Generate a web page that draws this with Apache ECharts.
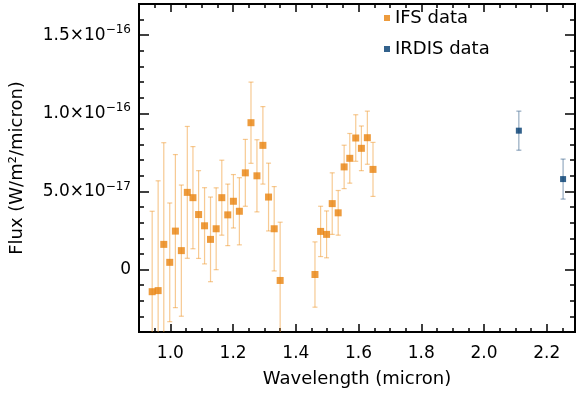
<!DOCTYPE html>
<html><head><meta charset="utf-8">
<script src="https://cdn.jsdelivr.net/npm/echarts@6/dist/echarts.min.js"></script>
<style>html,body{margin:0;padding:0;background:#fff}#c{width:579px;height:394px}</style>
</head><body><div id="c"></div>
<script>
// Flux values in units of 1e-17 W/m^2/micron
const ifsWavelength = [0.942,0.961,0.979,0.998,1.016,1.035,1.054,1.072,1.090,1.109,1.128,1.146,1.164,1.183,1.201,1.220,1.239,1.257,1.276,1.295,1.313,1.331,1.350,1.461,1.479,1.498,1.516,1.535,1.554,1.572,1.591,1.609,1.628,1.646];
const ifsFlux = [-1.42,-1.35,1.61,0.46,2.46,1.21,4.94,4.60,3.52,2.80,1.93,2.61,4.60,3.50,4.37,3.73,6.19,9.40,6.00,7.95,4.64,2.61,-0.70,-0.32,2.44,2.25,4.22,3.63,6.57,7.12,8.42,7.76,8.44,6.41];
const ifsErr = [5.15,7.03,6.51,3.8,4.9,4.2,4.22,3.27,2.81,2.44,2.71,2.62,2.4,1.97,1.71,2.15,2.14,2.6,2.31,2.48,2.17,2.7,3.73,2.09,1.61,1.5,1.97,1.43,1.39,1.59,1.49,1.43,1.7,1.73];
const irdisWavelength = [2.111, 2.252];
const irdisFlux = [8.89, 5.79];
const irdisErr = [1.25, 1.28];

const xTickValues = [1.0,1.2,1.4,1.6,1.8,2.0,2.2];
const xTickLabels = ['1.0','1.2','1.4','1.6','1.8','2.0','2.2'];
const xMinorValues = [0.90,0.95,1.00,1.05,1.10,1.15,1.20,1.25,1.30,1.35,1.40,1.45,1.50,1.55,1.60,1.65,1.70,1.75,1.80,1.85,1.90,1.95,2.00,2.05,2.10,2.15,2.20,2.25];
const yTickValues = [0,5,10,15];
const yTickMain = ['0','5.0\u00d710','1.0\u00d710','1.5\u00d710'];
const yTickExp = ['','\u221217','\u221216','\u221216'];
const yMinorValues = [-4,-3,-2,-1,0,1,2,3,4,5,6,7,8,9,10,11,12,13,14,15,16,17];

const FONT = 'DejaVu Sans';
const ORANGE = '#E8820C';
const NAVY = '#003B6F';

function errRender(color){
  return function(params, api){
    const x = api.value(0), y = api.value(1), e = api.value(2);
    const t = api.coord([x, y + e]), b = api.coord([x, y - e]);
    const cw = 2.5;
    const st = {stroke: color, lineWidth: 1.2};
    return {type:'group', children:[
      {type:'line', shape:{x1:t[0],y1:t[1],x2:b[0],y2:b[1]}, style:st},
      {type:'line', shape:{x1:t[0]-cw,y1:t[1],x2:t[0]+cw,y2:t[1]}, style:st},
      {type:'line', shape:{x1:b[0]-cw,y1:b[1],x2:b[0]+cw,y2:b[1]}, style:st}
    ]};
  };
}

const axLine = {show:true, onZero:false, lineStyle:{color:'#000', width:2}};
function xAx(pos, vals, len, labels){
  return {type:'value', position:pos, min:0.9, max:2.29,
    axisLine: axLine,
    axisTick:{show:true, inside:true, length:len, customValues:vals, lineStyle:{color:'#000', width:1.5}},
    axisLabel: labels ? {show:true, customValues:xTickValues, margin:13, fontSize:17, fontFamily:FONT, color:'#000',
       formatter: v => xTickLabels[xTickValues.findIndex(t => Math.abs(t - v) < 1e-6)]} : {show:false},
    splitLine:{show:false},
    name: labels ? 'Wavelength (micron)' : '', nameLocation:'middle', nameGap:38,
    nameTextStyle:{fontSize:18, fontFamily:FONT, color:'#000'}
  };
}
function yAx(pos, vals, len, labels){
  return {type:'value', position:pos, min:-4, max:17,
    axisLine: axLine,
    axisTick:{show:true, inside:true, length:len, customValues:vals, lineStyle:{color:'#000', width:1.5}},
    axisLabel: labels ? {show:true, customValues:yTickValues, margin:8, fontSize:17, fontFamily:FONT, color:'#000',
       formatter: v => { const i = yTickValues.findIndex(t => Math.abs(t - v) < 1e-6); return yTickExp[i] ? '{m|' + yTickMain[i] + '}{s|' + yTickExp[i] + '}' : '{m|' + yTickMain[i] + '}'; },
       rich:{m:{fontSize:17, fontFamily:FONT, color:'#000'}, s:{fontSize:12, fontFamily:FONT, color:'#000', verticalAlign:'bottom', padding:[0,0,10,0]}}} : {show:false},
    splitLine:{show:false},
    name: labels ? 'Flux (W/m\u00b2/micron)' : '', nameLocation:'middle', nameGap:113,
    nameTextStyle:{fontSize:18, fontFamily:FONT, color:'#000'}
  };
}

const chart = echarts.init(document.getElementById('c'), null, {renderer:'canvas'});
chart.setOption({
  animation:false,
  backgroundColor:'#fff',
  grid:{left:137, right:4, top:4, bottom:62},
  legend:{data:['IFS data','IRDIS data'], orient:'vertical', left:384, top:7, itemWidth:6, itemHeight:6, itemGap:9, padding:0,
    icon:'rect', textStyle:{fontSize:18, fontFamily:FONT, color:'#000', lineHeight:22}},
  xAxis:[xAx('bottom', xTickValues, 8, true), xAx('bottom', xMinorValues, 4, false), xAx('top', xTickValues, 8, false), xAx('top', xMinorValues, 4, false)],
  yAxis:[yAx('left', yTickValues, 10, true), yAx('left', yMinorValues, 5, false), yAx('right', yTickValues, 10, false), yAx('right', yMinorValues, 5, false)],
  series:[
    {type:'custom', name:'IFS err', renderItem: errRender('rgba(240,150,40,0.5)'), clip:true, z:1, silent:true,
      data: ifsWavelength.map((w,i) => [w, ifsFlux[i], ifsErr[i]])},
    {type:'custom', name:'IRDIS err', renderItem: errRender('rgba(60,100,140,0.55)'), clip:true, z:1, silent:true,
      data: irdisWavelength.map((w,i) => [w, irdisFlux[i], irdisErr[i]])},
    {type:'scatter', name:'IFS data', symbol:'rect', symbolSize:7, itemStyle:{color:ORANGE}, z:3,
      data: ifsWavelength.map((w,i) => [w, ifsFlux[i]])},
    {type:'scatter', name:'IRDIS data', symbol:'rect', symbolSize:6, itemStyle:{color:NAVY}, z:3,
      data: irdisWavelength.map((w,i) => [w, irdisFlux[i]])}
  ]
});
</script></body></html>
